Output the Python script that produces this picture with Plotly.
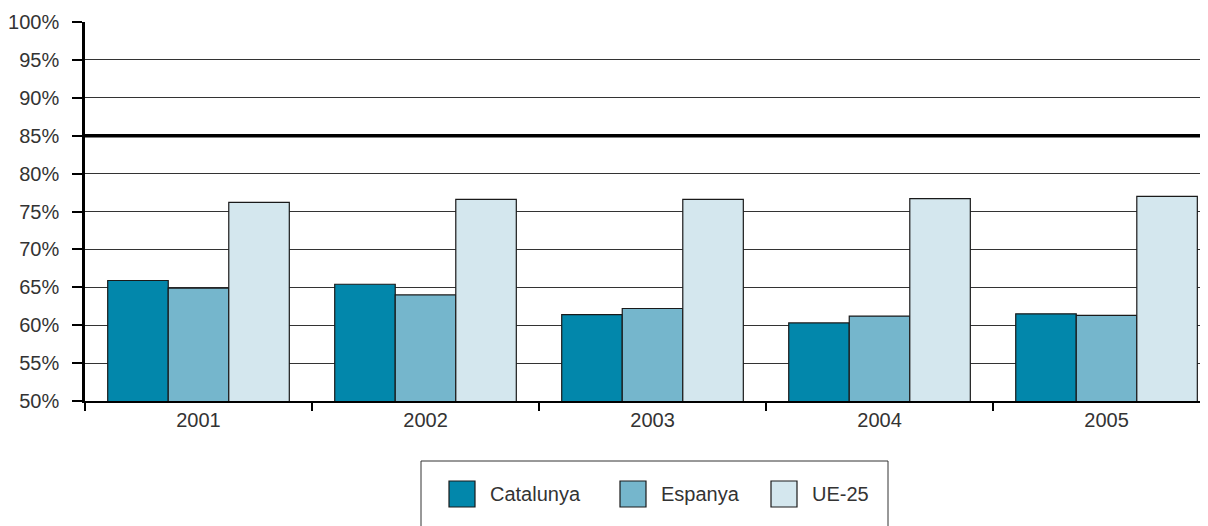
import plotly.graph_objects as go

# Values (percent)
years = ['2001', '2002', '2003', '2004', '2005']
catalunya = [65.9, 65.4, 61.4, 60.3, 61.5]
espanya = [64.9, 64.0, 62.2, 61.2, 61.3]
ue25 = [76.2, 76.6, 76.6, 76.7, 77.0]
target = 85

names = ['Catalunya', 'Espanya', 'UE-25']
colors = ['#0287ab', '#75b6cc', '#d4e7ee']
values = [catalunya, espanya, ue25]

fig = go.Figure()
for name, vals, color in zip(names, values, colors):
    fig.add_trace(go.Bar(
        x=years, y=vals, name=name,
        marker=dict(color=color, line=dict(color='#1a1a1a', width=1.2)),
    ))

# The page body has an 8px margin, so the figure is shrunk by that much
PAGE_OFF = 8
W, H = 1208 - PAGE_OFF, 526 - PAGE_OFF
left, right, top, bottom = 77, 0, 14, 125

# plot area in page pixels
plot_x0, plot_x1 = PAGE_OFF + left, PAGE_OFF + W - right
plot_y0, plot_y1 = PAGE_OFF + top, PAGE_OFF + H - bottom


def px_x(v):
    return (v - plot_x0) / (plot_x1 - plot_x0)


def px_y(v):
    return (plot_y1 - v) / (plot_y1 - plot_y0)


# Thick 85% objective line
fig.add_shape(type='line', xref='paper', yref='y', x0=0, x1=1,
              y0=target, y1=target, line=dict(color='black', width=3.5))

# Legend drawn by hand: frame, swatches, labels
fig.add_shape(type='rect', xref='paper', yref='paper',
              x0=px_x(421), x1=px_x(888), y0=px_y(461), y1=px_y(545),
              line=dict(color='#333333', width=1), fillcolor='white')
swatch_x = [449, 620, 771]
for sx, name, color in zip(swatch_x, names, colors):
    fig.add_shape(type='rect', xref='paper', yref='paper',
                  x0=px_x(sx), x1=px_x(sx + 26), y0=px_y(481), y1=px_y(507),
                  line=dict(color='#1a1a1a', width=1.2), fillcolor=color)
    fig.add_annotation(xref='paper', yref='paper', x=px_x(sx + 39), y=px_y(494),
                       text=name, showarrow=False, xanchor='left', yanchor='middle',
                       font=dict(size=20, color='#333333'))

fig.update_layout(
    width=W, height=H,
    margin=dict(l=left, r=right, t=top, b=bottom),
    barmode='group', bargap=0.2, bargroupgap=0,
    plot_bgcolor='white', paper_bgcolor='white',
    font=dict(family='Liberation Sans, Arial, sans-serif', size=20, color='#333333'),
    showlegend=False,
    xaxis=dict(
        range=[-0.5, 4.447], tickson='boundaries',
        ticks='outside', ticklen=8, tickwidth=2, tickcolor='black',
        showline=True, linecolor='black', linewidth=2,
        showgrid=False, tickfont=dict(size=20, color='#333333'),
    ),
    yaxis=dict(
        range=[50, 100], dtick=5, ticksuffix='%',
        ticks='outside', ticklen=10, tickwidth=1.5, tickcolor='black',
        showline=True, linecolor='black', linewidth=2.5,
        showgrid=True, gridcolor='#333333', gridwidth=1,
        zeroline=False, ticklabelstandoff=9,
        tickfont=dict(size=20, color='#333333'),
    ),
)

fig.write_html('out.html')
